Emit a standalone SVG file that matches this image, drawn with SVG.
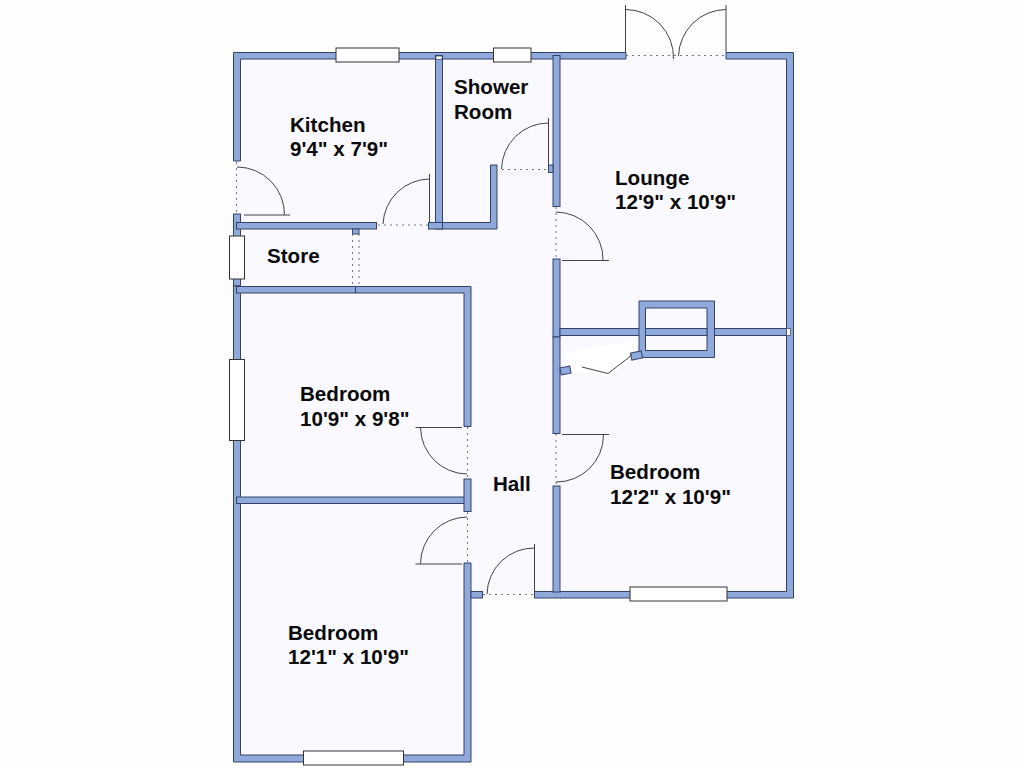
<svg xmlns="http://www.w3.org/2000/svg" width="1024" height="768" viewBox="0 0 1024 768">
<style>
.w{fill:#8fa9da;stroke:#34426a;stroke-width:1}
.win{fill:#fff;stroke:#333;stroke-width:1}
.d{fill:none;stroke:#444;stroke-width:1}
.dot{fill:none;stroke:#777;stroke-width:1;stroke-dasharray:2 4}
.l{font-family:"Liberation Sans",Arial,sans-serif;font-weight:700;font-size:20.6px;fill:#0a0a0a}
</style>
<rect width="1024" height="768" fill="#fefefe"/>
<path id="floor" d="M236 55H790V595H468V758H236Z" fill="#f9f9ff"/>
<path id="door-gap" d="M566 352L636 340L628 362L607 376L582 372L566 374Z" fill="#fff"/>
<g id="walls">
<path class="w" d="M233.500 161V52.500H626V59H240.500V161Z"/>
<path class="w" d="M726 52.500H793.500V598H534.500V591.500H786.500V59H726Z"/>
<rect class="w" x="233.500" y="214" width="7" height="72"/>
<path class="w" d="M233.500 286H240.500V755H464V563H471V762H233.500Z"/>
<rect class="w" x="236.500" y="222.500" width="140" height="6.500"/>
<rect class="w" x="352.500" y="229" width="6.500" height="5"/>
<rect class="w" x="236.500" y="286.500" width="119" height="6.500"/>
<path class="w" d="M355.500 286.500H471V426.500H464V293H355.500Z"/>
<rect class="w" x="435.500" y="55.500" width="7" height="173.500"/>
<rect x="436" y="56" width="6" height="3.500" fill="#fff" stroke="#34426a" stroke-width=".7"/>
<rect class="w" x="428.500" y="222.500" width="14" height="6.500"/>
<path class="w" d="M442.500 222.500H490.500V165H497V229H442.500Z"/>
<rect class="w" x="553" y="55.500" width="7" height="151"/>
<rect class="w" x="548.500" y="165" width="4.500" height="7.500"/>
<rect class="w" x="553" y="259" width="7" height="78"/>
<rect class="w" x="553" y="337" width="7" height="96.500"/>
<rect class="w" x="553" y="486" width="7" height="106"/>
<rect class="w" x="560" y="328.500" width="226.500" height="7"/>
<rect x="786.500" y="328.500" width="4" height="7" fill="#fff" stroke="#34426a" stroke-width=".7"/>
<path class="w" fill-rule="evenodd" d="M639 301H714.500V357.500H639ZM645.500 308V350.500H707V308Z"/>
<rect class="w" x="645.500" y="328.500" width="61.500" height="7"/>
<rect class="w" x="236.500" y="497" width="231" height="6.500"/>
<rect class="w" x="464" y="479" width="7" height="32.500"/>
<rect class="w" x="471" y="591.500" width="11.500" height="6.500"/>
<rect class="w" x="560.500" y="367" width="10" height="7" transform="rotate(-10 565.500 370.500)"/>
<rect class="w" x="631" y="352" width="11" height="7" transform="rotate(-12 636.500 355.500)"/>
</g>
<g id="windows">
<rect class="win" x="336" y="48" width="63" height="14"/>
<rect class="win" x="493.500" y="48" width="37.500" height="14"/>
<rect class="win" x="229.500" y="236" width="15" height="43"/>
<rect class="win" x="229.500" y="359.500" width="15" height="81"/>
<rect class="win" x="303.500" y="751" width="100" height="14"/>
<rect class="win" x="630" y="587" width="97" height="14"/>
</g>
<g id="doors">
<path class="dot" d="M236.500 162V214M378 225H428M502 169.500H548M626 55.500H726M556 207V259M556 434V486M467.500 427V479M467.500 512V563M483 594.500H534M352.500 234V286M359 234V286"/>
<path class="d" d="M237 167A47.500 47.500 0 0 1 284.500 215M244 215H290"/>
<path class="d" d="M429.500 174V222M429.500 179A47 47 0 0 0 383 224"/>
<path class="d" d="M548.500 118V165M548.500 123A47 47 0 0 0 501.500 169"/>
<path class="d" d="M625.500 5V52.500M625.500 9.500A48 48 0 0 1 673.500 59M726 5V52.500M726 9.500A48 48 0 0 0 678.500 56"/>
<path class="d" d="M556 212A47.500 47.500 0 0 1 603 260M562 260.500H609"/>
<path class="d" d="M562 434.500H609M603.500 435A47 47 0 0 1 556 482"/>
<path class="d" d="M415.500 427.500H462M420.500 428A47 47 0 0 0 467 474"/>
<path class="d" d="M467 517A47 47 0 0 0 420.500 564M415.500 564H462"/>
<path class="d" d="M534.500 544V592M534.500 548A47 47 0 0 0 487 594"/>
<path class="d" d="M582 367L608 373.500L632 355"/>
</g>
<g id="labels">
<text class="l" x="290" y="132">Kitchen</text>
<text class="l" x="290" y="156">9'4" x 7'9"</text>
<text class="l" x="454" y="94">Shower</text>
<text class="l" x="454" y="119">Room</text>
<text class="l" x="267" y="263">Store</text>
<text class="l" x="615" y="185">Lounge</text>
<text class="l" x="615" y="209">12'9" x 10'9"</text>
<text class="l" x="300" y="401">Bedroom</text>
<text class="l" x="300" y="426">10'9" x 9'8"</text>
<text class="l" x="610" y="479">Bedroom</text>
<text class="l" x="610" y="504">12'2" x 10'9"</text>
<text class="l" x="493" y="491">Hall</text>
<text class="l" x="288" y="640">Bedroom</text>
<text class="l" x="288" y="664">12'1" x 10'9"</text>
</g>
</svg>
